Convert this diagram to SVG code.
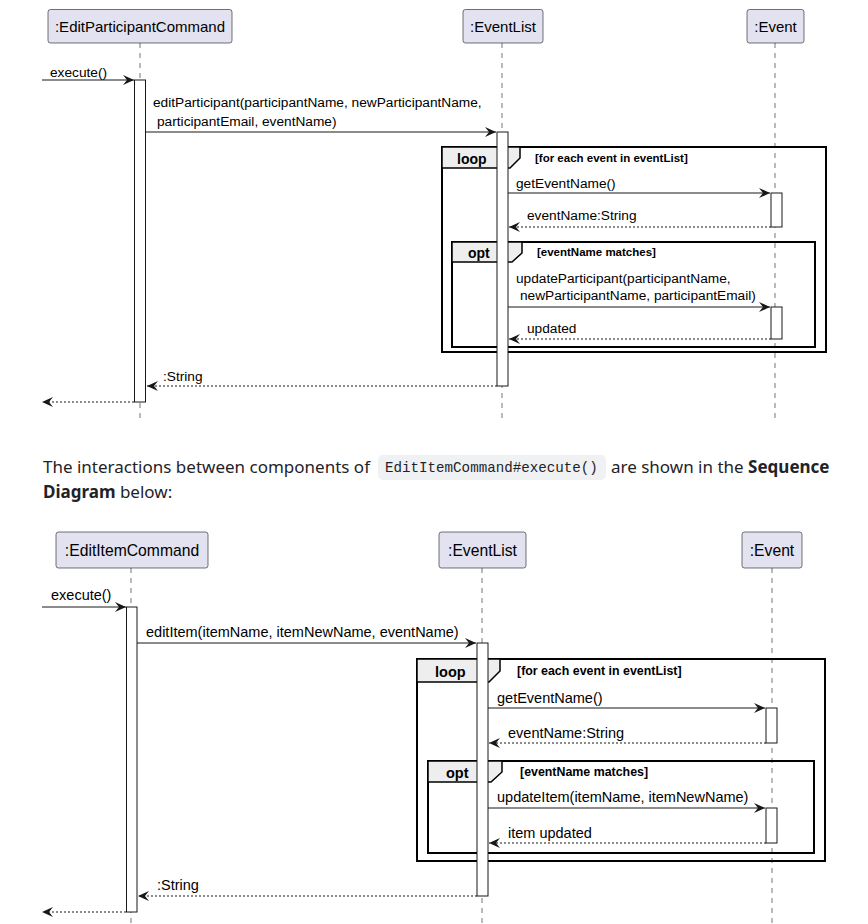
<svg xmlns="http://www.w3.org/2000/svg" width="868" height="924" viewBox="0 0 868 924">
<style>
.pbox{fill:#E2E2F0;stroke:#181818;stroke-width:0.6}
.pname{font-family:"Liberation Sans",Arial,sans-serif;font-size:15px;fill:#000}
.life{stroke:#181818;stroke-width:0.6;stroke-dasharray:5,5;fill:none}
.act{fill:#fff;stroke:#181818;stroke-width:1}
.msg{font-family:"Liberation Sans",Arial,sans-serif;font-size:13.7px;fill:#000}
.call{stroke:#181818;stroke-width:1;fill:none;marker-end:url(#ah)}
.ret{stroke:#181818;stroke-width:1;stroke-dasharray:2,2;fill:none;marker-end:url(#ah)}
.frame{fill:none;stroke:#000;stroke-width:2}
.tab{fill:#EEEEEE;stroke:#000;stroke-width:1.5}
.kw{font-family:"Liberation Sans",Arial,sans-serif;font-size:14px;font-weight:bold;fill:#000}
.cond{font-family:"Liberation Sans",Arial,sans-serif;font-size:11.5px;font-weight:bold;fill:#000}
.d2 .pname{font-size:15.7px}
.d2 .msg{font-size:14.5px}
.d2 .kw{font-size:14.5px}
.d2 .cond{font-size:12.4px}
.para{font-family:"Noto Sans","Open Sans",sans-serif;font-size:17px;fill:#1f2328}
.code{font-family:"Liberation Mono","DejaVu Sans Mono",monospace;font-size:14.2px;fill:#1f2328}
</style>
<defs>
<marker id="ah" viewBox="0 0 12 10" markerWidth="12" markerHeight="10" refX="11" refY="5" orient="auto" markerUnits="userSpaceOnUse">
<path d="M0,0 L11,5 L0,10 L4,5 Z" fill="#181818"/>
</marker>
</defs>
<rect width="868" height="924" fill="#fff"/>

<!-- Diagram 1 -->
<g id="d1-lifelines">
<line class="life" x1="140" y1="43" x2="140" y2="420"/>
<line class="life" x1="502" y1="43" x2="502" y2="420"/>
<line class="life" x1="775" y1="43" x2="775" y2="420"/>
</g>
<g id="d1-editParticipantCommand">
<rect class="pbox" x="48" y="9.5" width="184" height="33.5" rx="2.5"/>
<text class="pname" x="140" y="31.5" text-anchor="middle">:EditParticipantCommand</text>
</g>
<g id="d1-eventList">
<rect class="pbox" x="463" y="9.5" width="80" height="33.5" rx="2.5"/>
<text class="pname" x="503" y="31.5" text-anchor="middle">:EventList</text>
</g>
<g id="d1-event">
<rect class="pbox" x="747" y="9.5" width="57" height="33.5" rx="2.5"/>
<text class="pname" x="775.5" y="31.5" text-anchor="middle">:Event</text>
</g>
<g id="d1-loop">
<rect class="frame" x="442" y="147" width="384" height="205"/>
<path class="tab" d="M442,147 L520,147 L520,158 L510,168 L442,168 Z"/>
<text class="kw" x="457" y="164">loop</text>
<text class="cond" x="535" y="162">[for each event in eventList]</text>
</g>
<g id="d1-opt">
<rect class="frame" x="452" y="242" width="363" height="105"/>
<path class="tab" d="M452,242 L522,242 L522,253 L512,262 L452,262 Z"/>
<text class="kw" x="468" y="258">opt</text>
<text class="cond" x="537" y="256">[eventName matches]</text>
</g>
<g id="d1-activations">
<rect class="act" x="134.5" y="80" width="11" height="322"/>
<rect class="act" x="497" y="132" width="11" height="254"/>
<rect class="act" x="771" y="193" width="11" height="34"/>
<rect class="act" x="771" y="307" width="11" height="32"/>
</g>
<g id="d1-connectors">
<line class="call" x1="42" y1="80" x2="134" y2="80"/>
<line class="call" x1="146" y1="132" x2="496" y2="132"/>
<line class="call" x1="508" y1="193" x2="770" y2="193"/>
<line class="ret" x1="771" y1="227" x2="509" y2="227"/>
<line class="call" x1="508" y1="307" x2="770" y2="307"/>
<line class="ret" x1="771" y1="339" x2="509" y2="339"/>
<line class="ret" x1="497" y1="386" x2="147" y2="386"/>
<line class="ret" x1="134" y1="402" x2="42" y2="402"/>
</g>
<g id="d1-labels">
<text class="msg" x="50" y="77">execute()</text>
<text class="msg" x="153" y="107">editParticipant(participantName, newParticipantName,</text>
<text class="msg" x="157" y="126">participantEmail, eventName)</text>
<text class="msg" x="516" y="188">getEventName()</text>
<text class="msg" x="527" y="220">eventName:String</text>
<text class="msg" x="516" y="283">updateParticipant(participantName,</text>
<text class="msg" x="520" y="300">newParticipantName, participantEmail)</text>
<text class="msg" x="527" y="333">updated</text>
<text class="msg" x="163" y="381">:String</text>
</g>

<!-- Paragraph -->
<g id="paragraph">
<rect x="378" y="455" width="228" height="25" rx="5" fill="#eff1f3"/>
<text class="para" x="43" y="473">The interactions between components of</text>
<text class="code" x="385" y="472">EditItemCommand#execute()</text>
<text class="para" x="611" y="473">are shown in the <tspan font-weight="bold">Sequence</tspan></text>
<text class="para" x="43" y="498"><tspan font-weight="bold">Diagram</tspan> below:</text>
</g>

<!-- Diagram 2 -->
<g class="d2">
<g id="d2-lifelines">
<line class="life" x1="131" y1="568" x2="131" y2="924"/>
<line class="life" x1="482" y1="568" x2="482" y2="924"/>
<line class="life" x1="772" y1="568" x2="772" y2="924"/>
</g>
<g id="d2-editItemCommand">
<rect class="pbox" x="56" y="532" width="152" height="36" rx="2.5"/>
<text class="pname" x="132" y="556" text-anchor="middle">:EditItemCommand</text>
</g>
<g id="d2-eventList">
<rect class="pbox" x="439" y="532" width="87" height="36" rx="2.5"/>
<text class="pname" x="482.5" y="556" text-anchor="middle">:EventList</text>
</g>
<g id="d2-event">
<rect class="pbox" x="742" y="532" width="60" height="36" rx="2.5"/>
<text class="pname" x="772" y="556" text-anchor="middle">:Event</text>
</g>
<g id="d2-loop">
<rect class="frame" x="417" y="659" width="408" height="202"/>
<path class="tab" d="M417,659 L500,659 L500,671 L489,682 L417,682 Z"/>
<text class="kw" x="435" y="677">loop</text>
<text class="cond" x="517" y="675">[for each event in eventList]</text>
</g>
<g id="d2-opt">
<rect class="frame" x="428" y="761" width="386" height="92"/>
<path class="tab" d="M428,761 L502,761 L502,772 L491,782 L428,782 Z"/>
<text class="kw" x="446" y="778">opt</text>
<text class="cond" x="520" y="776">[eventName matches]</text>
</g>
<g id="d2-activations">
<rect class="act" x="126.5" y="607" width="10.5" height="305"/>
<rect class="act" x="477" y="643" width="11" height="253"/>
<rect class="act" x="766" y="708" width="11" height="35"/>
<rect class="act" x="766" y="808" width="11" height="35"/>
</g>
<g id="d2-connectors">
<line class="call" x1="42" y1="607" x2="126" y2="607"/>
<line class="call" x1="137" y1="643" x2="476" y2="643"/>
<line class="call" x1="488" y1="708" x2="765" y2="708"/>
<line class="ret" x1="766" y1="743" x2="489" y2="743"/>
<line class="call" x1="488" y1="808" x2="765" y2="808"/>
<line class="ret" x1="766" y1="843" x2="489" y2="843"/>
<line class="ret" x1="477" y1="896" x2="138" y2="896"/>
<line class="ret" x1="126" y1="912" x2="42" y2="912"/>
</g>
<g id="d2-labels">
<text class="msg" x="51" y="600">execute()</text>
<text class="msg" x="146" y="637">editItem(itemName, itemNewName, eventName)</text>
<text class="msg" x="497" y="703">getEventName()</text>
<text class="msg" x="508" y="738">eventName:String</text>
<text class="msg" x="497" y="802">updateItem(itemName, itemNewName)</text>
<text class="msg" x="508" y="838">item updated</text>
<text class="msg" x="157" y="890">:String</text>
</g>
</g>
</svg>
